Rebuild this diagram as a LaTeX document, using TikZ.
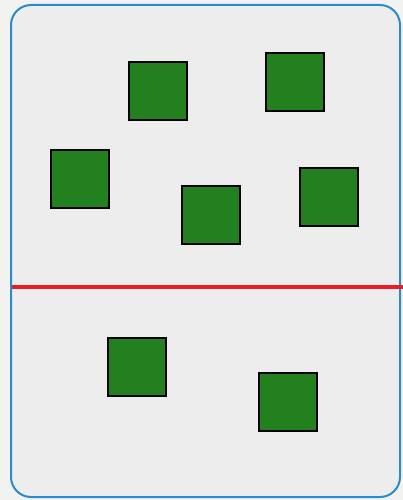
\documentclass[tikz,border=0pt]{standalone}
\usepackage{xcolor}
\usepackage{tikz}
\usetikzlibrary{positioning}
\definecolor{cardgray}{RGB}{236,237,236}
\definecolor{pagegray}{RGB}{242,242,241}
\definecolor{framblue}{RGB}{40,140,205}
\definecolor{sqgreen}{RGB}{34,128,30}
\definecolor{divred}{RGB}{230,30,35}
\tikzset{
	card/.style={draw=framblue, fill=cardgray, rounded corners=20pt, line width=2pt},
	sq/.style={draw=black, fill=sqgreen, line width=2.4pt, minimum size=58pt,
		inner sep=0pt, outer sep=0pt},
	divider/.style={draw=divred, line width=4.5pt}
}
\begin{document}
\begin{tikzpicture}[x=1pt, y=-1pt]
	
	%% -- Page and card
	\fill[pagegray] (0,0) rectangle (403,500);
	\useasboundingbox (0,0) rectangle (403,500);
	\draw[card] (11,5) rectangle (400,497);
	
	%% -- Upper squares
	\node[sq] (s1) at (158,91) {};
	\node[sq] (s2) at (295,82) {};
	\node[sq] (s3) at (80,179) {};
	\node[sq] (s4) at (211,215) {};
	\node[sq] (s5) at (329,197) {};
	
	%% -- Divider
	\coordinate (dl) at (12,287);
	\coordinate (dr) at (403,287);
	\draw[divider] (dl) -- (dr);
	
	%% -- Lower squares
	\node[sq] (s6) at (137,367) {};
	\node[sq] (s7) at (288,402) {};
	
\end{tikzpicture}
\end{document}
